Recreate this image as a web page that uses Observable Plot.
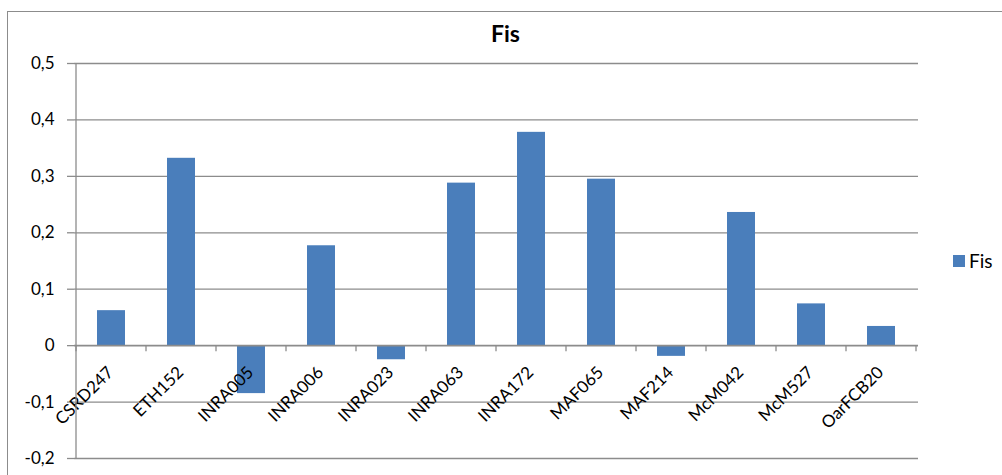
<!DOCTYPE html>
<html>
<head>
<meta charset="utf-8">
<script src="https://cdn.jsdelivr.net/npm/d3@7"></script>
<script src="https://cdn.jsdelivr.net/npm/@observablehq/plot@0.6"></script>
<style>
  html, body { margin: 0; padding: 0; background: #fff; }
  #wrap { position: relative; width: 1002px; height: 475px; overflow: hidden; font-family: Lato, "Open Sans", sans-serif; }
  #frame { position: absolute; left: 7px; top: 11px; width: 1100px; height: 480px; border: 1px solid #8c8c8c; box-sizing: border-box; }
  #title { position: absolute; left: 0; width: 1011px; top: 22px; line-height: 23px; text-align: center; font-weight: bold; font-size: 23px; color: #000; }
  #legend { position: absolute; left: 953px; top: 250px; height: 21px; font-size: 19px; line-height: 21px; color: #000; display: flex; align-items: center; }
  #legend span.sw { display: inline-block; width: 12px; height: 12px; background: #4a7ebb; margin-right: 4px; }
  #chart { position: absolute; left: 0; top: 0; }
</style>
</head>
<body>
<div id="wrap">
  <div id="frame"></div>
  <div id="chart"></div>
  <div id="title">Fis</div>
  <div id="legend"><span class="sw"></span>Fis</div>
</div>
<script>
// Fis per microsatellite locus
const loci = ["CSRD247", "ETH152", "INRA005", "INRA006", "INRA023", "INRA063",
              "INRA172", "MAF065", "MAF214", "McM042", "McM527", "OarFCB20"];
const fis = [0.062, 0.332, -0.085, 0.177, -0.025, 0.288,
             0.378, 0.295, -0.019, 0.236, 0.074, 0.034];
const yTicks = [-0.2, -0.1, 0, 0.1, 0.2, 0.3, 0.4, 0.5];

const rows = loci.map((locus, i) => ({locus, fis: fis[i]}));
const fmt = v => (v === 0 ? "0" : d3.format(".1f")(v).replace("−", "-").replace(".", ","));
const grid = "#8c8c8c";
const font = "Lato, 'Open Sans', sans-serif";

const chart = Plot.plot({
  width: 1002,
  height: 475,
  marginLeft: 74,
  marginRight: 84,
  marginTop: 63,
  marginBottom: 17,
  style: {fontFamily: font, fontSize: "17px", color: "#000", background: "transparent"},
  x: {type: "band", domain: loci, paddingInner: 0.6, paddingOuter: 0.3, axis: null},
  y: {type: "linear", domain: [-0.2, 0.5], label: null},
  marks: [
    Plot.gridY(yTicks.filter(t => t !== 0), {stroke: grid, strokeOpacity: 1, strokeWidth: 1.3}),
    Plot.axisY(yTicks, {tickFormat: fmt, tickSize: 7, tickPadding: 13, stroke: grid, strokeWidth: 1.3, label: null, fontSize: 17}),
    Plot.barY(rows, {x: "locus", y: "fis", fill: "#4a7ebb"}),
    Plot.ruleY([0], {stroke: grid, strokeWidth: 1.6}),
    Plot.text(rows, {x: "locus", y: () => 0, text: "locus", rotate: -45, textAnchor: "end",
      dx: -1, dy: 24, fontSize: 17, fill: "#000"})
  ]
});

document.getElementById("chart").appendChild(chart);

// vertical axis line and category boundary ticks on the zero line, from the plot's scales
const sx = chart.scale("x"), sy = chart.scale("y");
const step = sx.apply(loci[1]) - sx.apply(loci[0]);
const left = sx.apply(loci[0]) - (step - sx.bandwidth) / 2;
const y0 = sy.apply(0), yTop = sy.apply(0.5), yBot = sy.apply(-0.2);
const g = d3.select(chart).append("g").attr("stroke", grid).attr("stroke-width", 1.3);
g.append("line").attr("x1", left).attr("x2", left).attr("y1", yTop).attr("y2", yBot);
for (let i = 0; i <= loci.length; i++) {
  const x = left + i * step;
  g.append("line").attr("x1", x).attr("x2", x).attr("y1", y0).attr("y2", y0 + 6);
}
</script>
</body>
</html>
